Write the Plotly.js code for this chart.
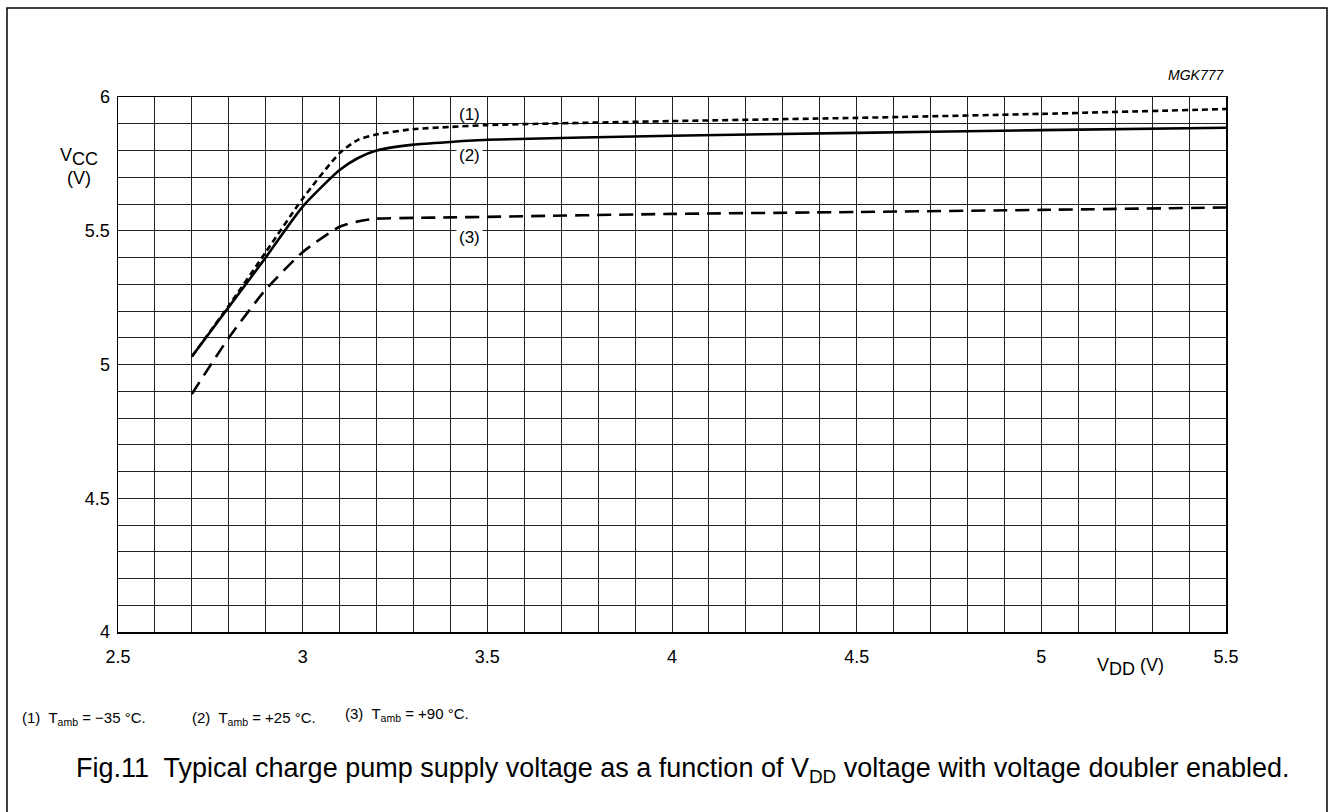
<!DOCTYPE html>
<html>
<head>
<meta charset="utf-8">
<script src="https://cdn.plot.ly/plotly-3.0.1.min.js"></script>
<style>html,body{margin:0;padding:0;background:#fff;}#chart{width:1329px;height:812px;}</style>
</head>
<body>
<div id="chart"></div>
<script>
// V_DD (V)
const vdd = [2.7, 2.8, 2.9, 3.0, 3.1, 3.15, 3.2, 3.3, 3.4, 3.5, 4.0, 4.5, 5.0, 5.5];
// V_CC (V) for each ambient temperature
const vccMinus35 = [5.03, 5.22, 5.42, 5.62, 5.79, 5.84, 5.86, 5.88, 5.888, 5.895, 5.91, 5.922, 5.937, 5.955];
const vccPlus25  = [5.03, 5.215, 5.40, 5.59, 5.727, 5.772, 5.80, 5.822, 5.832, 5.84, 5.855, 5.866, 5.876, 5.885];
const vccPlus90  = [4.89, 5.10, 5.28, 5.42, 5.515, 5.535, 5.545, 5.548, 5.55, 5.552, 5.563, 5.57, 5.578, 5.587];
const curveLabels = ["(1)", "(2)", "(3)"];
const curveLabelPos = [[3.452, 5.936], [3.452, 5.783], [3.452, 5.473]];
const legendTexts = ["(1)  T<sub>amb</sub> = \u221235 \u00b0C.", "(2)  T<sub>amb</sub> = +25 \u00b0C.", "(3)  T<sub>amb</sub> = +90 \u00b0C."];

const FONT = "Liberation Sans, Arial, sans-serif";
const mk = (y, dash) => ({x: vdd, y: y, mode: "lines", type: "scatter",
  line: {color: "#000", width: 2.6, dash: dash, shape: "spline", smoothing: 0.6},
  hoverinfo: "skip", showlegend: false});

const traces = [mk(vccMinus35, "6px,4px"), mk(vccPlus25, "solid"), mk(vccPlus90, "14px,8px")];

const ann = [];
curveLabels.forEach((t, i) => ann.push({x: curveLabelPos[i][0], y: curveLabelPos[i][1], xref: "x", yref: "y",
  text: t, showarrow: false, font: {family: FONT, size: 17, color: "#000"}, bgcolor: i === 0 ? "rgba(0,0,0,0)" : "#fff", borderpad: 2}));
ann.push({xref: "paper", yref: "paper", x: 1.0, y: 1.022, text: "<i>MGK777</i>", showarrow: false,
  xanchor: "right", yanchor: "bottom", font: {family: FONT, size: 14, color: "#000"}});
ann.push({xref: "paper", yref: "paper", x: -0.035, y: 0.87, text: "V<sub><span style='font-size:18px'>CC</span></sub><br>(V)", showarrow: false,
  xanchor: "center", yanchor: "middle", align: "center", font: {family: FONT, size: 18, color: "#000"}});
ann.push({xref: "paper", yref: "paper", x: 0.914, y: -0.065, text: "V<sub><span style='font-size:18px'>DD</span></sub> (V)", showarrow: false,
  xanchor: "center", yanchor: "middle", font: {family: FONT, size: 18, color: "#000"}});
const legX = [20, 190, 343];
const legY = [718, 718, 714];
legendTexts.forEach((t, i) => ann.push({xref: "paper", yref: "paper", x: (legX[i] - 118) / 1108, y: (632 - legY[i]) / 535,
  text: t, showarrow: false, xanchor: "left", yanchor: "middle", font: {family: FONT, size: 15, color: "#000"}}));
ann.push({xref: "paper", yref: "paper", x: (74 - 118) / 1108, y: (632 - 770) / 535,
  text: "Fig.11  Typical charge pump supply voltage as a function of V<sub>DD</sub> voltage with voltage doubler enabled.",
  showarrow: false, xanchor: "left", yanchor: "middle", font: {family: FONT, size: 27, color: "#000"}});

const layout = {
  width: 1329, height: 812,
  margin: {l: 118, r: 103, t: 97, b: 180},
  paper_bgcolor: "#fff", plot_bgcolor: "#fff",
  font: {family: FONT, size: 18, color: "#000"},
  xaxis: {range: [2.5, 5.5], dtick: 0.5, tick0: 2.5, showgrid: true, gridcolor: "#222", gridwidth: 1,
    minor: {dtick: 0.1, showgrid: true, gridcolor: "#222", gridwidth: 1},
    showline: true, linecolor: "#000", linewidth: 1.5, mirror: true, zeroline: false,
    ticks: "", ticklabelstandoff: 8, tickfont: {family: FONT, size: 18, color: "#000"}, fixedrange: true},
  yaxis: {range: [4, 6], dtick: 0.5, tick0: 4, showgrid: true, gridcolor: "#222", gridwidth: 1,
    minor: {dtick: 0.1, showgrid: true, gridcolor: "#222", gridwidth: 1},
    showline: true, linecolor: "#000", linewidth: 1.5, mirror: true, zeroline: false,
    ticks: "", ticklabelstandoff: 3, tickfont: {family: FONT, size: 18, color: "#000"}, fixedrange: true},
  annotations: ann,
  shapes: [{type: "rect", xref: "paper", yref: "paper",
    x0: (7 - 118) / 1108, x1: (1327 - 118) / 1108, y0: (632 - 830) / 535, y1: 1 + (97 - 8) / 535,
    line: {color: "#000", width: 1.5}, fillcolor: "rgba(0,0,0,0)", layer: "below"}]
};

Plotly.newPlot("chart", traces, layout, {displayModeBar: false, staticPlot: true});
</script>
</body>
</html>
